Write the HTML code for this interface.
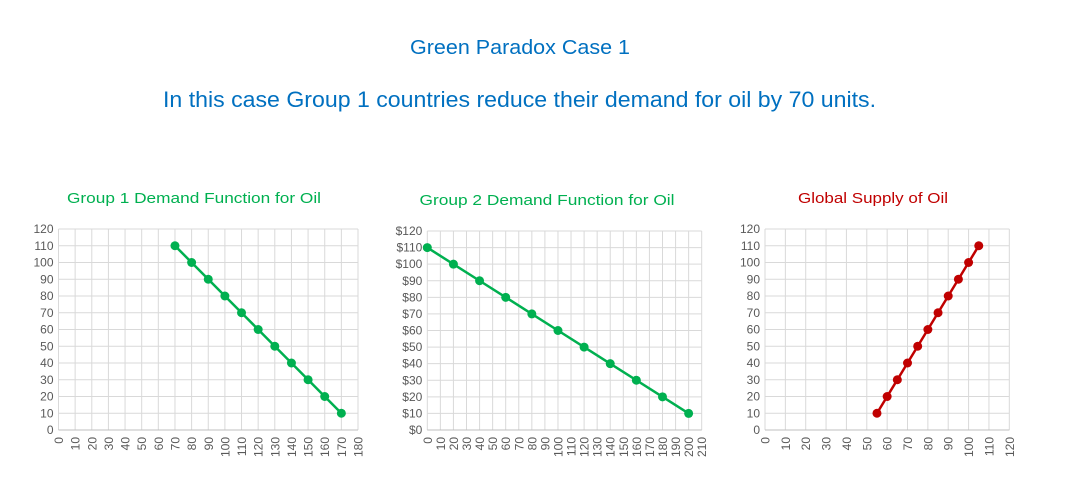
<!DOCTYPE html>
<html><head><meta charset="utf-8"><style>
html,body{margin:0;padding:0;background:#fff;width:1080px;height:500px;overflow:hidden}
svg{display:block;font-family:"Liberation Sans",sans-serif}
</style></head><body>
<svg id="s" width="1080" height="500">
<text x="410" y="54" font-size="20" fill="#0070c0" textLength="220" lengthAdjust="spacingAndGlyphs">Green Paradox Case 1</text>
<text x="163" y="107" font-size="22" fill="#0070c0" textLength="713" lengthAdjust="spacingAndGlyphs">In this case Group 1 countries reduce their demand for oil by 70 units.</text>
</svg>
<script>
// Group 1 demand
const g1X = [70,80,90,100,110,120,130,140,150,160,170];
const g1Y = [110,100,90,80,70,60,50,40,30,20,10];
// Group 2 demand
const g2X = [0,20,40,60,80,100,120,140,160,180,200];
const g2Y = [110,100,90,80,70,60,50,40,30,20,10];
// Global supply
const supX = [55,60,65,70,75,80,85,90,95,100,105];
const supY = [10,20,30,40,50,60,70,80,90,100,110];
const yTicks = [0,10,20,30,40,50,60,70,80,90,100,110,120];
const g1XTicks = [0,10,20,30,40,50,60,70,80,90,100,110,120,130,140,150,160,170,180];
const g2XTicks = [0,10,20,30,40,50,60,70,80,90,100,110,120,130,140,150,160,170,180,190,200,210];
const supXTicks = [0,10,20,30,40,50,60,70,80,90,100,110,120];

const NS='http://www.w3.org/2000/svg';
const svg=document.getElementById('s');
function mk(tag,attrs,parent){const e=document.createElementNS(NS,tag);for(const k in attrs)e.setAttribute(k,attrs[k]);(parent||svg).appendChild(e);return e;}

function chart(o){
  const g=mk('g',{});
  
  
  const xMax=o.xTicks[o.xTicks.length-1], yMax=yTicks[yTicks.length-1];
  const sx=v=>o.L+v/xMax*(o.R-o.L);
  const sy=v=>o.B-v/yMax*(o.B-o.T);
  const t=mk('text',{x:o.tx,y:o.ty,'font-size':15,fill:o.titleColor,'text-anchor':'middle',textLength:o.tl,lengthAdjust:'spacingAndGlyphs'},g);
  t.textContent=o.title;
  
  
  yTicks.forEach(v=>{
    const l=mk('line',{x1:o.L,x2:o.R,y1:sy(v),y2:sy(v),stroke:'#d9d9d9','stroke-width':1},g);
    
    
    const lb=mk('text',{x:o.L-5,y:sy(v)+4,'font-size':12,fill:'#595959','text-anchor':'end'},g);
    lb.textContent=(o.dollar?'$':'')+v;
    
    
  });
  o.xTicks.forEach(v=>{
    const l=mk('line',{x1:sx(v),x2:sx(v),y1:o.T,y2:o.B,stroke:'#d9d9d9','stroke-width':1},g);
    
    
    const lb=mk('text',{x:0,y:0,'font-size':12,fill:'#595959','text-anchor':'end',transform:`translate(${sx(v)+4.5},${o.B+7}) rotate(-90)`},g);
    lb.textContent=v;
    
    
  });
  const ax=mk('line',{x1:o.L,x2:o.R,y1:o.B,y2:o.B,stroke:'#bfbfbf','stroke-width':1},g);
  
  
  const pts=o.xs.map((x,i)=>sx(x)+','+sy(o.ys[i])).join(' ');
  const pl=mk('polyline',{points:pts,fill:'none',stroke:o.color,'stroke-width':2.5},g);
  
  
  o.xs.forEach((x,i)=>{
    const c=mk('circle',{cx:sx(x),cy:sy(o.ys[i]),r:4.5,fill:o.color},g);
    
    
  });
}
chart({name:'group1-demand-chart',title:'Group 1 Demand Function for Oil',titleColor:'#00b050',color:'#00b050',tx:194,ty:203,tl:254,L:58.5,R:358,T:229,B:430,xTicks:g1XTicks,xs:g1X,ys:g1Y,dollar:false});
chart({name:'group2-demand-chart',title:'Group 2 Demand Function for Oil',titleColor:'#00b050',color:'#00b050',tx:547,ty:205,tl:255,L:427.3,R:701.7,T:231,B:430,xTicks:g2XTicks,xs:g2X,ys:g2Y,dollar:true});
chart({name:'global-supply-chart',title:'Global Supply of Oil',titleColor:'#c00000',color:'#c00000',tx:873,ty:203,tl:150,L:765,R:1009.3,T:229,B:430,xTicks:supXTicks,xs:supX,ys:supY,dollar:false});
</script>
</body></html>
